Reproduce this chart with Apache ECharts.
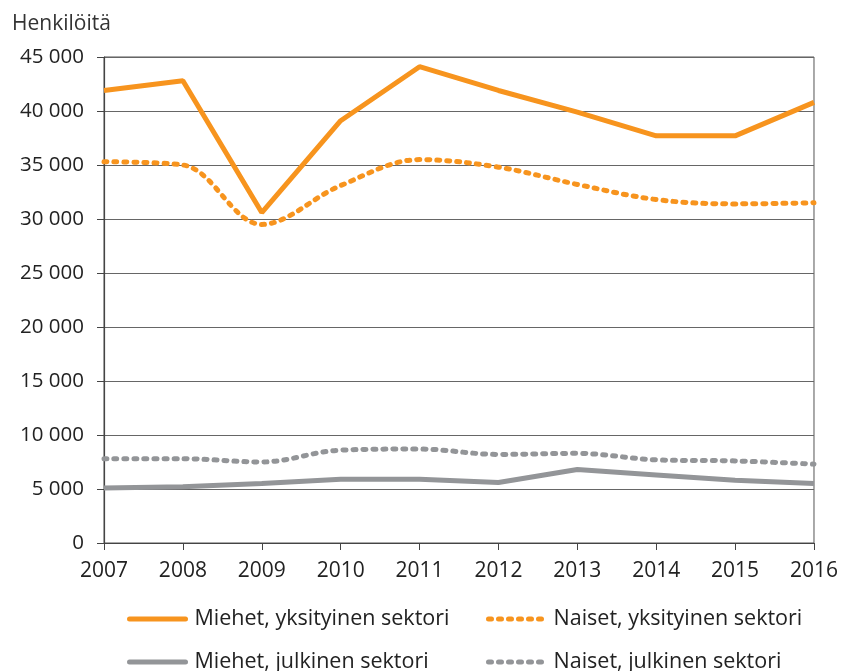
<!DOCTYPE html>
<html>
<head>
<meta charset="utf-8">
<script src="https://cdn.jsdelivr.net/npm/echarts@6/dist/echarts.min.js"></script>
<style>
  html, body { margin: 0; padding: 0; background: #fff; }
  #chart { width: 841px; height: 671px; }
</style>
</head>
<body>
<div id="chart"></div>
<script>
// vuodet ja sarjat
var years = ['2007', '2008', '2009', '2010', '2011', '2012', '2013', '2014', '2015', '2016'];
var miehetYks = [41900, 42800, 30600, 39100, 44100, 41900, 39900, 37700, 37700, 40800];
var naisetYks = [35300, 35000, 29500, 33100, 35500, 34800, 33200, 31800, 31400, 31500];
var miehetJulk = [5100, 5200, 5500, 5900, 5900, 5600, 6800, 6300, 5800, 5500];
var naisetJulk = [7800, 7800, 7500, 8600, 8700, 8200, 8300, 7700, 7600, 7300];

var FONT = 'Open Sans';
var ORANGE = '#f7941e';
var GREY = '#939598';

function fmt(v) {
  return String(v).replace(/\B(?=(\d{3})+(?!\d))/g, ' ');
}

function legendAt(name, left, top) {
  return {
    data: [name],
    left: left,
    top: top,
    padding: 0,
    itemWidth: 56,
    itemHeight: 10,
    itemGap: 0,
    itemStyle: { opacity: 0 },
    lineStyle: { width: 5, cap: 'round' },
    textStyle: { fontFamily: FONT, fontSize: 21.5, color: '#222', padding: [0, 0, 0, 4] }
  };
}

var myChart = echarts.init(document.getElementById('chart'));
var option = {
  animation: false,
  title: {
    text: 'Henkilöitä',
    left: 12,
    top: 14,
    padding: 0,
    textStyle: { fontFamily: FONT, fontSize: 21, fontWeight: 'normal', color: '#333' }
  },
  legend: [
    legendAt('Miehet, yksityinen sektori', 127, 608),
    legendAt('Naiset, yksityinen sektori', 486, 608),
    legendAt('Miehet, julkinen sektori', 127, 651),
    legendAt('Naiset, julkinen sektori', 486, 651)
  ],
  grid: {
    left: 104,
    right: 25,
    top: 57,
    bottom: 128,
    show: true,
    borderColor: '#555',
    borderWidth: 1
  },
  xAxis: {
    type: 'category',
    data: years,
    boundaryGap: false,
    axisLine: { lineStyle: { color: '#444', width: 1.2 } },
    axisTick: { show: true, length: 7, lineStyle: { color: '#444' } },
    axisLabel: { fontFamily: FONT, fontSize: 21, color: '#222', margin: 18 }
  },
  yAxis: {
    type: 'value',
    min: 0,
    max: 45000,
    interval: 5000,
    axisLine: { show: true, lineStyle: { color: '#444', width: 1.2 } },
    axisTick: { show: true, length: 7, lineStyle: { color: '#444' } },
    axisLabel: { fontFamily: FONT, fontSize: 20.5, color: '#222', margin: 20, formatter: fmt },
    splitLine: { lineStyle: { color: '#666', width: 1 } }
  },
  series: [
    {
      name: 'Miehet, yksityinen sektori',
      type: 'line',
      data: miehetYks,
      symbol: 'none',
      color: ORANGE,
      lineStyle: { width: 5, color: ORANGE }
    },
    {
      name: 'Naiset, yksityinen sektori',
      type: 'line',
      data: naisetYks,
      symbol: 'none',
      smooth: 0.35,
      color: ORANGE,
      lineStyle: { width: 5, color: ORANGE, type: [3, 7], cap: 'round' }
    },
    {
      name: 'Miehet, julkinen sektori',
      type: 'line',
      data: miehetJulk,
      symbol: 'none',
      color: GREY,
      lineStyle: { width: 5, color: GREY }
    },
    {
      name: 'Naiset, julkinen sektori',
      type: 'line',
      data: naisetJulk,
      symbol: 'none',
      smooth: 0.35,
      color: GREY,
      lineStyle: { width: 5, color: GREY, type: [3, 7], cap: 'round' }
    }
  ]
};
myChart.setOption(option);
window.addEventListener('resize', function () {
  myChart.resize();
});
</script>
</body>
</html>
